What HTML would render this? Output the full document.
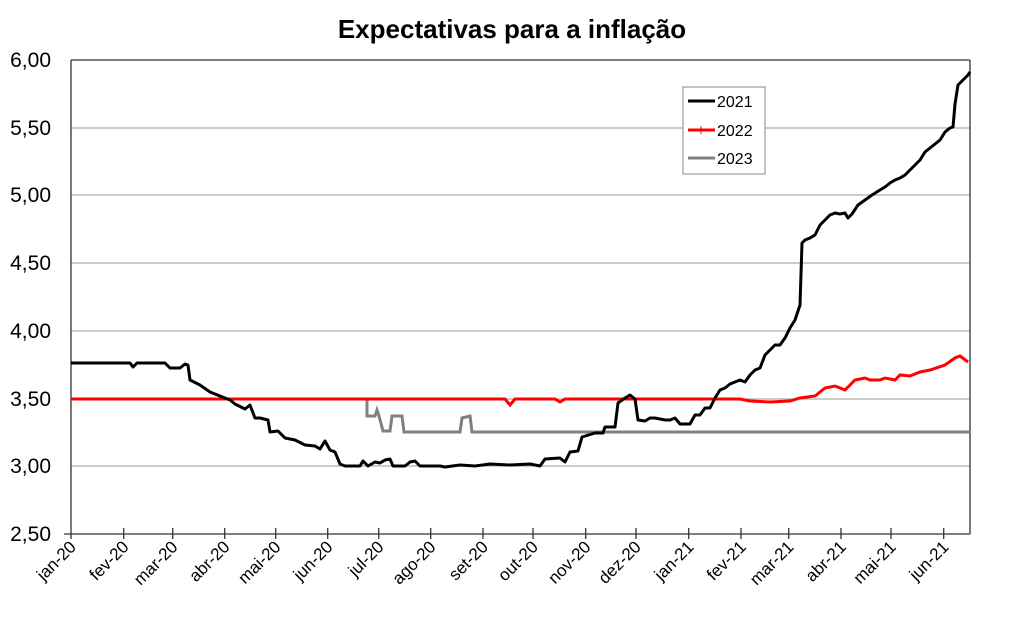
<!DOCTYPE html>
<html><head><meta charset="utf-8"><style>body{margin:0;background:#fff}svg{display:block}</style></head><body>
<svg width="1024" height="638" xmlns="http://www.w3.org/2000/svg" font-family="Liberation Sans, Arial, sans-serif">
<rect width="1024" height="638" fill="#fff"/>
<text x="512" y="38" text-anchor="middle" font-size="26" font-weight="bold">Expectativas para a inflação</text>
<g stroke="#999" stroke-width="1">
<line x1="71" y1="60" x2="970" y2="60"/><line x1="71" y1="128" x2="970" y2="128"/><line x1="71" y1="195" x2="970" y2="195"/><line x1="71" y1="263" x2="970" y2="263"/><line x1="71" y1="331" x2="970" y2="331"/><line x1="71" y1="399" x2="970" y2="399"/><line x1="71" y1="466" x2="970" y2="466"/>
</g>
<g stroke="#333" stroke-width="1.3" fill="none">
<line x1="71" y1="60" x2="71" y2="534"/><line x1="970" y1="60" x2="970" y2="534"/><line x1="64" y1="534" x2="970" y2="534"/>
<line x1="71" y1="60" x2="970" y2="60"/>
</g>
<g font-size="21" text-anchor="end">
<text x="51" y="67">6,00</text><text x="51" y="135">5,50</text><text x="51" y="202">5,00</text><text x="51" y="270">4,50</text><text x="51" y="338">4,00</text><text x="51" y="406">3,50</text><text x="51" y="473">3,00</text><text x="51" y="541">2,50</text>
</g>
<g stroke="#333" stroke-width="1.3">
<line x1="71" y1="534" x2="71" y2="539"/><line x1="123.7" y1="528" x2="123.7" y2="539"/><line x1="172.7" y1="528" x2="172.7" y2="539"/><line x1="224.7" y1="528" x2="224.7" y2="539"/><line x1="275.7" y1="528" x2="275.7" y2="539"/><line x1="327.7" y1="528" x2="327.7" y2="539"/><line x1="378.7" y1="528" x2="378.7" y2="539"/><line x1="430.7" y1="528" x2="430.7" y2="539"/><line x1="483" y1="528" x2="483" y2="539"/><line x1="533" y1="528" x2="533" y2="539"/><line x1="585.7" y1="528" x2="585.7" y2="539"/><line x1="636" y1="528" x2="636" y2="539"/><line x1="688.7" y1="528" x2="688.7" y2="539"/><line x1="741" y1="528" x2="741" y2="539"/><line x1="788.7" y1="528" x2="788.7" y2="539"/><line x1="841" y1="528" x2="841" y2="539"/><line x1="891" y1="528" x2="891" y2="539"/><line x1="943.7" y1="528" x2="943.7" y2="539"/>
</g>
<g font-size="17" text-anchor="end">
<text transform="translate(77,548) rotate(-45)">jan-20</text>
<text transform="translate(129.7,548) rotate(-45)">fev-20</text>
<text transform="translate(178.7,548) rotate(-45)">mar-20</text>
<text transform="translate(230.7,548) rotate(-45)">abr-20</text>
<text transform="translate(281.7,548) rotate(-45)">mai-20</text>
<text transform="translate(333.7,548) rotate(-45)">jun-20</text>
<text transform="translate(384.7,548) rotate(-45)">jul-20</text>
<text transform="translate(436.7,548) rotate(-45)">ago-20</text>
<text transform="translate(489,548) rotate(-45)">set-20</text>
<text transform="translate(539,548) rotate(-45)">out-20</text>
<text transform="translate(591.7,548) rotate(-45)">nov-20</text>
<text transform="translate(642,548) rotate(-45)">dez-20</text>
<text transform="translate(694.7,548) rotate(-45)">jan-21</text>
<text transform="translate(747,548) rotate(-45)">fev-21</text>
<text transform="translate(794.7,548) rotate(-45)">mar-21</text>
<text transform="translate(847,548) rotate(-45)">abr-21</text>
<text transform="translate(897,548) rotate(-45)">mai-21</text>
<text transform="translate(949.7,548) rotate(-45)">jun-21</text>
</g>
<polyline fill="none" stroke="#808080" stroke-width="3" points="71,399 367,399 367,416 375,416 377,410 379,416 383,431 390,431 392,416 402,416 404,432 460,432 462,418 470,416 472,432 970,432"/>
<polyline fill="none" stroke="#ff0000" stroke-width="3" points="71,399 505,399 510,405 515,399 555,399 560,402 565,399 740,399 750,401 770,402 790,401 800,398 815,396 825,388 835,386 845,390 855,380 865,378 870,380 880,380 885,378 895,380 900,375 910,376 920,372 930,370 945,365 955,358 960,356 968,362"/>
<polyline fill="none" stroke="#000" stroke-width="3" stroke-linejoin="round" points="71,363 130,363 133,367 137,363 165,363 170,368 180,368 185,364 188,365 190,380 200,385 210,392 220,396 230,400 235,404 245,409 250,405 255,418 260,418 268,420 270,432 278,431 285,438 295,440 305,445 315,446 320,449 325,441 330,450 335,452 340,464 345,466 360,466 363,461 368,466 375,462 380,463 385,460 390,459 393,466 405,466 410,462 415,461 420,466 440,466 445,467 460,465 475,466 490,464 510,465 530,464 540,466 545,459 560,458 565,462 570,452 578,451 582,437 595,433 603,433 605,427 615,427 618,403 625,398 630,395 635,399 638,420 645,421 650,418 655,418 665,420 670,420 675,418 680,424 690,424 695,415 700,415 705,408 710,408 715,398 720,390 725,388 730,384 740,380 745,382 750,375 755,370 760,368 765,355 770,350 775,345 780,345 785,338 790,328 795,320 800,305 802,243 805,240 810,238 815,235 820,225 825,220 830,215 835,213 840,214 845,213 848,218 852,214 858,205 865,200 872,195 880,190 885,187 890,183 895,180 900,178 905,175 910,170 915,165 920,160 925,152 930,148 940,140 945,132 950,128 953,127 955,104 958,85 965,78 968,75 970,72"/>
<rect x="683" y="87" width="82" height="87" fill="#fff" stroke="#888" stroke-width="1"/>
<g stroke-width="3">
<line x1="688" y1="101" x2="715" y2="101" stroke="#000"/>
<line x1="688" y1="130" x2="715" y2="130" stroke="#f00"/><line x1="701" y1="126" x2="701" y2="134" stroke="#f00" stroke-width="1"/>
<line x1="688" y1="158" x2="715" y2="158" stroke="#808080"/>
</g>
<g font-size="16"><text x="717" y="107">2021</text><text x="717" y="136">2022</text><text x="717" y="164">2023</text></g>
</svg>
</body></html>
